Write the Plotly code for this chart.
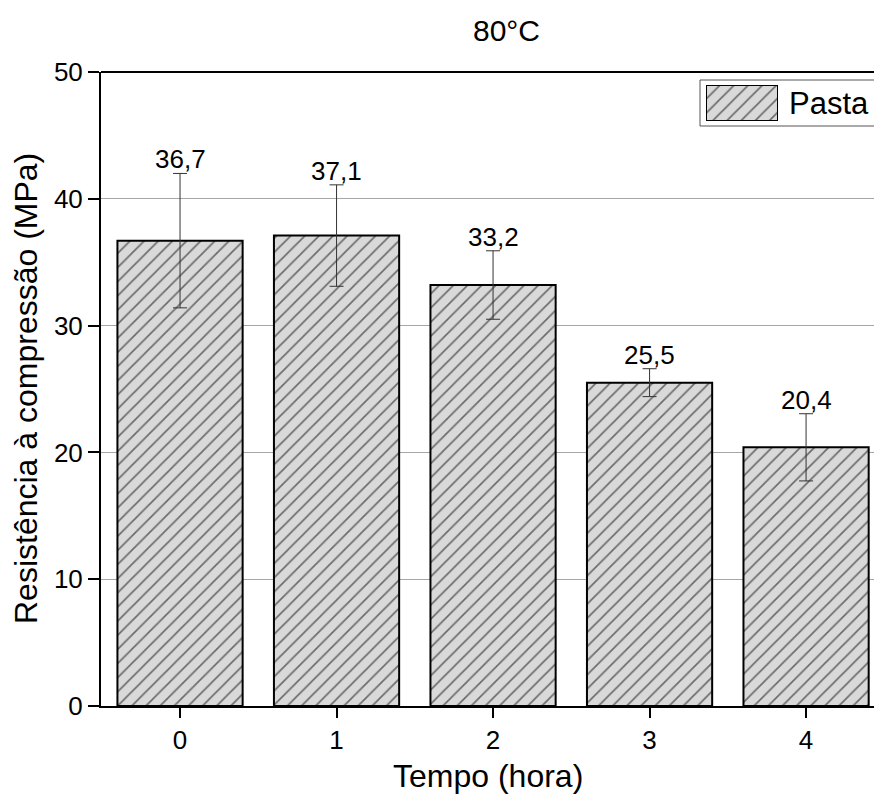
import plotly.graph_objects as go

categories = ["0", "1", "2", "3", "4"]
x_pos = [0, 1, 2, 3, 4]
values = [36.7, 37.1, 33.2, 25.5, 20.4]
errors = [5.3, 4.0, 2.7, 1.1, 2.65]
labels = ["36,7", "37,1", "33,2", "25,5", "20,4"]
y_ticks = [0, 10, 20, 30, 40, 50]

FONT = "Arial, Liberation Sans, sans-serif"
pattern = dict(shape="/", fgcolor="black", bgcolor="#d9d9d9", size=10, solidity=0.17)

fig = go.Figure()
fig.add_trace(go.Bar(
    x=x_pos, y=values, width=0.8,
    marker=dict(color="#d9d9d9", pattern=pattern, line=dict(color="black", width=2)),
    error_y=dict(type="data", array=errors, visible=True, color="#333333", thickness=1, width=7),
    showlegend=False,
))

# legend swatch as inset bar
fig.add_trace(go.Bar(
    x=[0], y=[1], width=1, xaxis="x2", yaxis="y2",
    marker=dict(color="#d9d9d9", pattern=pattern, line=dict(color="black", width=2)),
    showlegend=False, hoverinfo="skip",
))

annotations = []
for xp, v, e, t in zip(x_pos, values, errors, labels):
    annotations.append(dict(x=xp, y=v + e, text=t, showarrow=False, xref="x", yref="y",
                            yanchor="bottom", yshift=-3, font=dict(size=26, color="black", family=FONT)))

annotations += [
    dict(x=0.524, y=1.0655, xref="paper", yref="paper", text="80°C", showarrow=False,
         xanchor="center", yanchor="middle", font=dict(size=30, color="black", family=FONT)),
    dict(x=0.5, y=-0.110, xref="paper", yref="paper", text="Tempo (hora)", showarrow=False,
         xanchor="center", yanchor="middle", font=dict(size=32, color="black", family=FONT)),
    dict(x=(26 - 101) / 773, y=0.5, xref="paper", yref="paper", text="Resistência à compressão (MPa)",
         showarrow=False, textangle=-90, xanchor="center", yanchor="middle",
         font=dict(size=32, color="black", family=FONT)),
    dict(x=(787 - 101) / 773, y=(706 - 103) / 634, xref="paper", yref="paper", text="Pasta",
         showarrow=False, xanchor="left", yanchor="middle", font=dict(size=31, color="black", family=FONT)),
]

shapes = [
    dict(type="line", xref="paper", yref="paper", x0=0, x1=1.02, y0=1, y1=1,
         line=dict(color="black", width=2)),
    dict(type="rect", xref="paper", yref="paper", x0=(700 - 101) / 773, x1=1.05,
         y0=(706 - 126) / 634, y1=(706 - 80) / 634, line=dict(color="#555555", width=1),
         fillcolor="rgba(0,0,0,0)"),
]

fig.update_layout(
    width=874, height=804,
    margin=dict(l=101, r=0, t=72, b=98),
    paper_bgcolor="white", plot_bgcolor="white",
    font=dict(family=FONT, color="black"),
    annotations=annotations, shapes=shapes,
    bargap=0.2,
    xaxis=dict(range=[-0.505, 4.434], tickvals=x_pos, ticktext=categories,
               showline=True, linecolor="black", linewidth=2,
               ticks="outside", ticklen=10, tickwidth=2, tickcolor="black",
               tickfont=dict(size=26, family=FONT, color="black"), showgrid=False, zeroline=False),
    yaxis=dict(range=[0, 50], tickvals=y_ticks,
               showline=True, linecolor="black", linewidth=2,
               ticks="outside", ticklen=11, tickwidth=2, tickcolor="black",
               tickfont=dict(size=26, family=FONT, color="black"),
               showgrid=True, gridcolor="#a6a6a6", gridwidth=1, zeroline=False),
    xaxis2=dict(domain=[(706 - 101) / 773, (778 - 101) / 773], range=[-0.5, 0.5], anchor="y2",
                visible=False, fixedrange=True),
    yaxis2=dict(domain=[(706 - 121) / 634, (706 - 85) / 634], range=[0, 1], anchor="x2",
                visible=False, fixedrange=True),
)

fig.write_html("out.html")
